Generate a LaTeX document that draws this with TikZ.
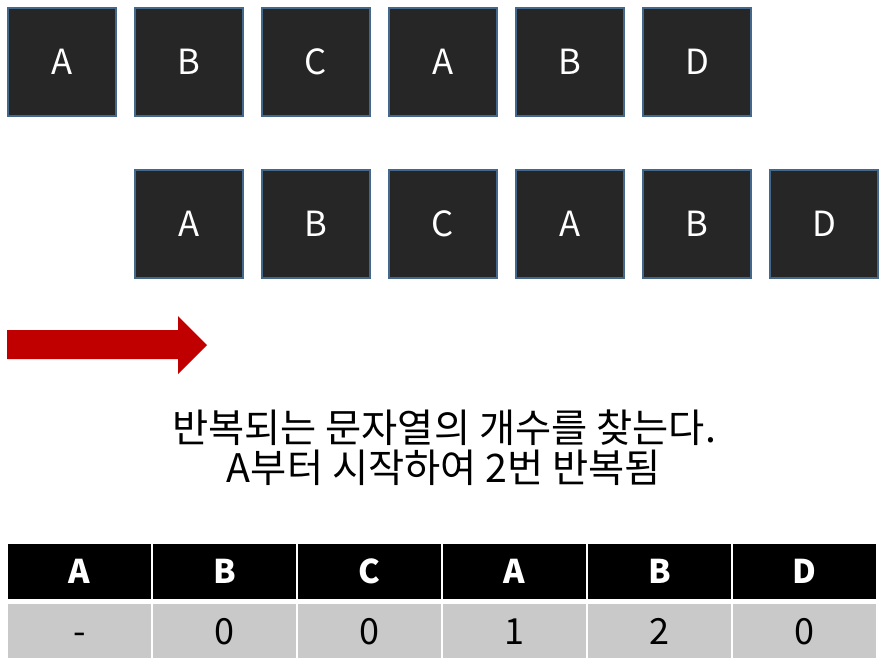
\documentclass[tikz,border=0pt]{standalone}
\usepackage{fontspec}
\setmainfont{Noto Sans CJK KR}
\usetikzlibrary{positioning}
\definecolor{clrBox}{RGB}{38,38,38}
\definecolor{clrBdr}{RGB}{68,103,140}
\definecolor{clrArr}{RGB}{192,0,0}
\definecolor{clrRow}{RGB}{201,201,201}
\tikzset{
  chbox/.style={rectangle, draw=clrBdr, fill=clrBox, line width=1.5pt,
    minimum size=81pt, inner sep=0pt, text=white, font=\fontsize{26}{28}\selectfont},
  headcell/.style={rectangle, fill=black, minimum width=107.25pt, minimum height=41.25pt,
    inner sep=0pt, text=white, font=\fontsize{24.5}{26}\selectfont\bfseries},
  valcell/.style={rectangle, fill=clrRow, minimum width=107.25pt, minimum height=40.5pt,
    inner sep=0pt, text=black, text height=20pt, text depth=0pt,
    font=\fontsize{27}{29}\selectfont},
  desc/.style={align=center, inner sep=0pt, font=\fontsize{29.5}{30}\selectfont},
}
\begin{document}
\begin{tikzpicture}[x=0.75pt, y=-0.75pt]
\useasboundingbox (0,0) rectangle (890,668);
\def\xA{62}\def\dX{127}\def\yT{62}\def\yB{223.5}
\foreach \i/\ch in {1/A, 2/B, 3/C, 4/A, 5/B, 6/D}
{\node[chbox] (t\i) at ({\xA+\dX*(\i-1)}, \yT) {\ch};
 \node[chbox] (b\i) at ({\xA+\dX*\i}, \yB) {\ch};}
\fill[clrArr] (7,330) -- (178,330) -- (178,316) -- (207,345) -- (178,374) -- (178,359) -- (7,359) -- cycle;
\node[desc] (txt) at (444, 448) {반복되는 문자열의 개수를 찾는다.\\A부터 시작하여 2번 반복됨};
\foreach \i/\ch/\v in {1/A/-, 2/B/0, 3/C/0, 4/A/1, 5/B/2, 6/D/0}
{\node[headcell] (h\i) at ({79.5+145*(\i-1)}, 571.5) {\ch};
 \node[valcell] (v\i) at ({79.5+145*(\i-1)}, 631) {\v};}
\end{tikzpicture}
\end{document}
